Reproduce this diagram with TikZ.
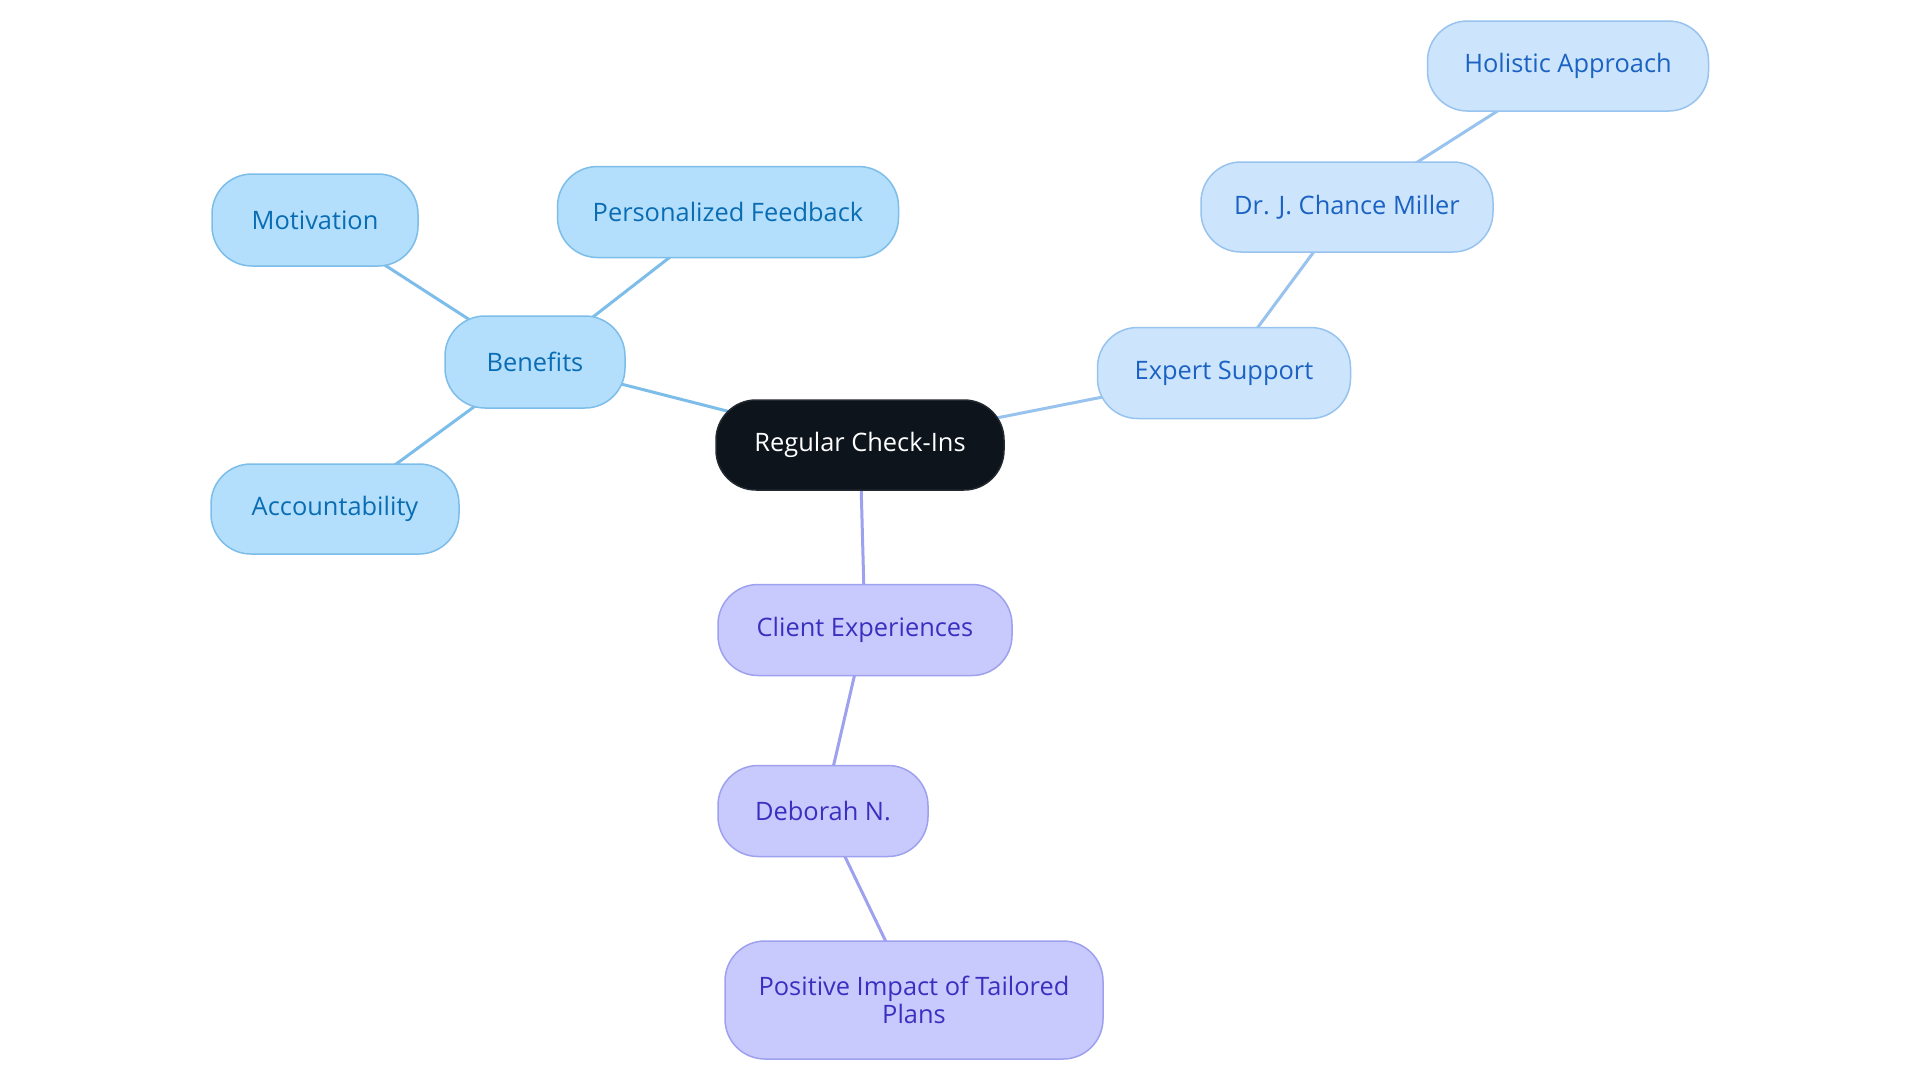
\documentclass[tikz,border=0pt]{standalone}
\usepackage{fontspec}
\setmainfont{Open Sans}
\usetikzlibrary{backgrounds}
\begin{document}
\begin{tikzpicture}[x=1bp,y=-1bp,
  box/.style={rounded corners=40bp, line width=1.5bp, inner sep=0pt, align=center,
    font=\fontsize{25.5}{27.5}\selectfont},
  rootbox/.style={box, fill=rootfill, draw=rootfill!80!gray, text=white},
  bluebox/.style={box, fill=bluefill, draw=blueline, text=bluetext},
  expbox/.style={box, fill=expfill, draw=expline, text=exptext},
  purpbox/.style={box, fill=purpfill, draw=purpline, text=purptext},
  blueedge/.style={draw=blueline, line width=3bp},
  expedge/.style={draw=expline, line width=3bp},
  purpedge/.style={draw=purpline, line width=3bp}]
\definecolor{rootfill}{HTML}{0D141C}
\definecolor{bluefill}{HTML}{B3DFFC}
\definecolor{blueline}{HTML}{7DBDE9}
\definecolor{bluetext}{HTML}{0A6DB3}
\definecolor{expfill}{HTML}{CCE5FD}
\definecolor{expline}{HTML}{98C3EE}
\definecolor{exptext}{HTML}{1B62C2}
\definecolor{purpfill}{HTML}{C8CAFD}
\definecolor{purpline}{HTML}{9DA1EE}
\definecolor{purptext}{HTML}{3A30C0}
\useasboundingbox (0,0) rectangle (1920,1083);

\node[rootbox, minimum width=288bp, minimum height=90bp] (root) at (860,445) {Regular Check-Ins};

\node[bluebox, minimum width=180bp, minimum height=92bp] (ben) at (535,362) {Benefits};
\node[bluebox, minimum width=206bp, minimum height=92bp] (mot) at (315,220) {Motivation};
\node[bluebox, minimum width=341bp, minimum height=91bp] (fb) at (728,212) {Personalized Feedback};
\node[bluebox, minimum width=248bp, minimum height=90bp] (acc) at (335,509) {Accountability};

\node[expbox, minimum width=253bp, minimum height=91bp] (exp) at (1224,373) {Expert Support};
\node[expbox, minimum width=292bp, minimum height=90bp] (mil) at (1347,207) {Dr. J. Chance Miller};
\node[expbox, minimum width=281bp, minimum height=90bp] (hol) at (1568,66) {Holistic Approach};

\node[purpbox, minimum width=294bp, minimum height=91bp] (cli) at (865,630) {Client Experiences};
\node[purpbox, minimum width=210bp, minimum height=91bp] (deb) at (823,811) {Deborah N.};
\node[purpbox, minimum width=378bp, minimum height=118bp] (pos) at (914,1000) {Positive Impact of Tailored\\Plans};

\begin{scope}[on background layer]
\fill[white] (0,0) rectangle (1920,1083);
\draw[blueedge] (root.center) -- (ben.center);
\draw[blueedge] (ben.center) -- (mot.center);
\draw[blueedge] (ben.center) -- (fb.center);
\draw[blueedge] (ben.center) -- (acc.center);
\draw[expedge] (root.center) -- (exp.center);
\draw[expedge] (exp.center) -- (mil.center);
\draw[expedge] (mil.center) -- (hol.center);
\draw[purpedge] (root.center) -- (cli.center);
\draw[purpedge] (cli.center) -- (deb.center);
\draw[purpedge] (deb.center) -- (pos.center);
\end{scope}
\end{tikzpicture}
\end{document}
